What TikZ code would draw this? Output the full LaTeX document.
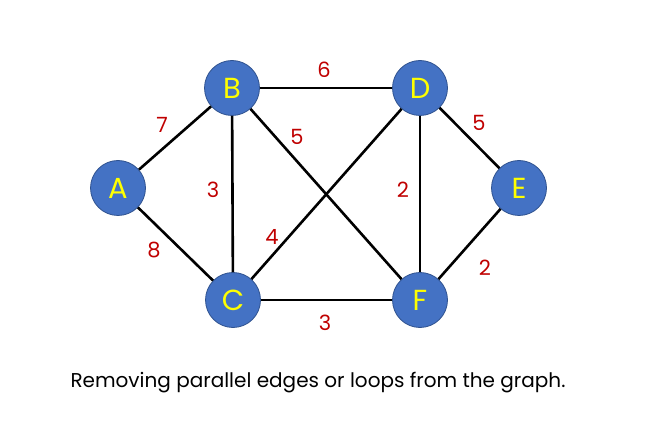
\documentclass[tikz,border=0pt]{standalone}
\usepackage{fontspec}
\setmainfont{Poppins}
\definecolor{nodefill}{HTML}{4472C4}
\definecolor{nodeedge}{HTML}{2F528F}
\definecolor{wred}{HTML}{C00000}
\definecolor{nodetext}{HTML}{FFFF00}
\begin{document}
\begin{tikzpicture}[x=1pt,y=-1pt,
  vtx/.style={circle,fill=nodefill,draw=nodeedge,line width=0.8pt,minimum size=55pt,inner sep=0pt,text=nodetext,font=\fontsize{29}{29}\selectfont},
  edge/.style={line width=2.6pt,black},
  wt/.style={text=wred,font=\fontsize{21}{21}\selectfont,inner sep=0pt}]
\useasboundingbox (0,0) rectangle (664,430);
\fill[white] (0,0) rectangle (664,430);
\node[vtx] (A) at (118,188) {A};
\node[vtx] (B) at (232,88) {B};
\node[vtx] (C) at (233,300) {C};
\node[vtx] (D) at (420,88) {D};
\node[vtx] (E) at (519,188) {E};
\node[vtx] (F) at (420,300) {F};
\draw[edge] (A) -- (B);
\draw[edge] (A) -- (C);
\draw[edge] (B) -- (C);
\draw[edge] (B) -- (D);
\draw[edge] (B) -- (F);
\draw[edge] (C) -- (D);
\draw[edge] (C) -- (F);
\draw[edge] (D) -- (F);
\draw[edge] (D) -- (E);
\draw[edge] (E) -- (F);
\node[wt] (w1) at (162,125) {7};
\node[wt] (w2) at (154,250) {8};
\node[wt] (w3) at (213,190) {3};
\node[wt] (w4) at (324,70) {6};
\node[wt] (w5) at (297,137) {5};
\node[wt] (w6) at (272,237) {4};
\node[wt] (w7) at (403,190) {2};
\node[wt] (w8) at (479,123) {5};
\node[wt] (w9) at (485,268) {2};
\node[wt] (w10) at (325,323) {3};
\node[font=\fontsize{20}{20}\selectfont,inner sep=0pt] (cap) at (318,383) {Removing parallel edges or loops from the graph.};
\end{tikzpicture}
\end{document}
